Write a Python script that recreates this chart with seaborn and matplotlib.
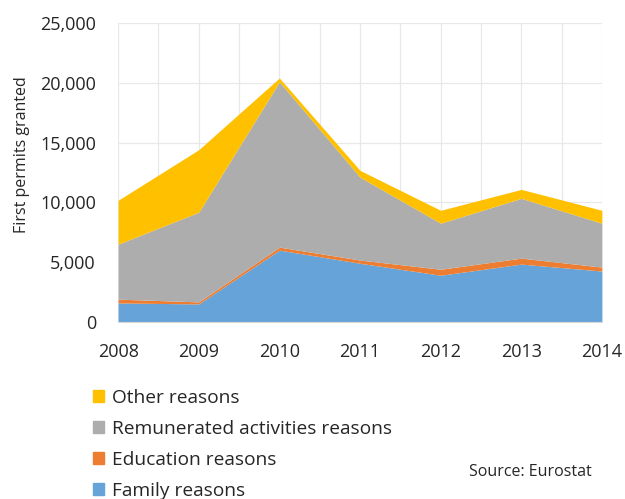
import matplotlib
matplotlib.use("Agg")
import matplotlib.pyplot as plt
import matplotlib.patches as mpatches
import seaborn as sns

# data
years = [2008, 2009, 2010, 2011, 2012, 2013, 2014]
family = [1580, 1500, 6000, 4900, 3900, 4830, 4250]
education = [320, 170, 250, 270, 500, 500, 330]
remunerated = [4600, 7500, 13830, 6930, 3850, 5000, 3670]
other = [3670, 5230, 320, 570, 1080, 750, 1080]

labels = ["Family reasons", "Education reasons",
          "Remunerated activities reasons", "Other reasons"]
colors = ["#65a3d9", "#ed7d31", "#adadad", "#ffc000"]

sns.set_style("white")
plt.rcParams["font.family"] = ["Open Sans", "DejaVu Sans"]

fig = plt.figure(figsize=(6.25, 4.99), dpi=100)
ax = fig.add_axes([0.189, 0.355, 0.774, 0.599])

ax.stackplot(years, family, education, remunerated, other,
             colors=colors, linewidth=0, zorder=2)

ax.set_xlim(2008, 2014)
ax.set_ylim(0, 25000)
ax.set_yticks(range(0, 25001, 5000))
ax.set_yticklabels([f"{v:,}" for v in range(0, 25001, 5000)])
ax.set_xticks(years)
ax.set_xticks([y + 0.5 for y in years[:-1]], minor=True)
ax.grid(True, which="both", color="#e8e8e8", linewidth=0.9, zorder=0)
ax.set_axisbelow(True)

for s in ["top", "right", "left"]:
    ax.spines[s].set_visible(False)
ax.spines["bottom"].set_color("#d9d9d9")

ax.tick_params(axis="y", length=0, labelsize=13, colors="#262626", pad=16)
ax.tick_params(axis="x", which="major", length=5, color="#d9d9d9",
               labelsize=13, colors="#262626", pad=10)
ax.tick_params(axis="x", which="minor", length=0)
ax.set_ylabel("First permits granted", fontsize=11.5, color="#262626")
ax.yaxis.set_label_coords(-0.183, 0.56)

handles = [mpatches.Patch(color=c, label=l)
           for c, l in zip(colors[::-1], labels[::-1])]
fig.legend(handles=handles, loc="upper left", bbox_to_anchor=(0.136, 0.236),
           frameon=False, fontsize=13.8, handlelength=0.6, handleheight=0.6,
           handletextpad=0.4, labelspacing=0.68, borderaxespad=0)

fig.text(0.947, 0.054, "Source: Eurostat", ha="right", va="center",
         fontsize=11.5, color="#262626")

fig.savefig("out.png", dpi=100)
